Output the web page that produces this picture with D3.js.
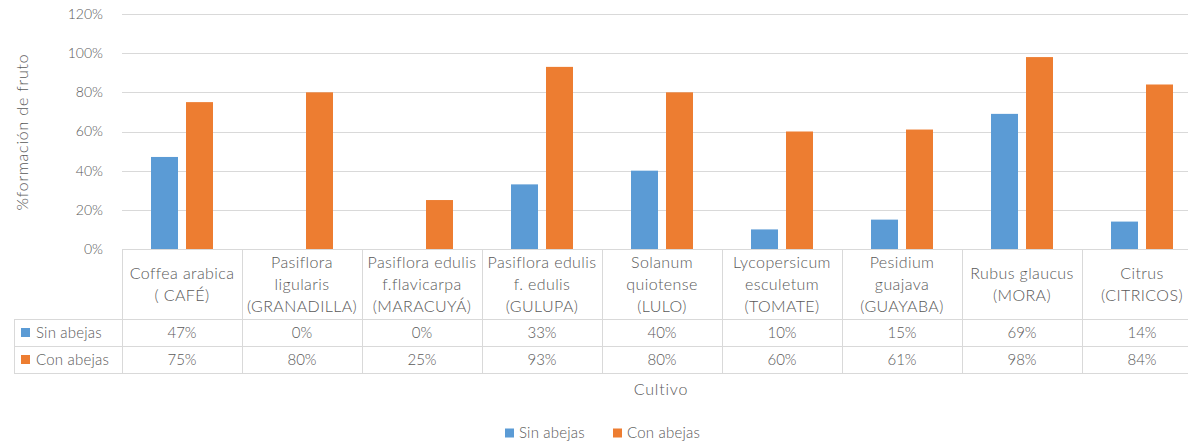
<!DOCTYPE html>
<html><head><meta charset="utf-8">
<script src="https://cdn.jsdelivr.net/npm/d3@7"></script>
<style>body{margin:0;background:#fff}svg{display:block}text{font-family:Lato,"Liberation Sans",sans-serif;fill:#595959;font-weight:300}</style>
</head><body>
<svg id="c" width="1188" height="443"></svg>
<script>
const categories = [
  ["Coffea arabica","( CAFÉ)"],
  ["Pasiflora","ligularis","(GRANADILLA)"],
  ["Pasiflora edulis","f.flavicarpa","(MARACUYÁ)"],
  ["Pasiflora edulis","f. edulis","(GULUPA)"],
  ["Solanum","quiotense","(LULO)"],
  ["Lycopersicum","esculetum","(TOMATE)"],
  ["Pesidium","guajava","(GUAYABA)"],
  ["Rubus glaucus","(MORA)"],
  ["Citrus","(CITRICOS)"]
];
const seriesNames = ["Sin abejas","Con abejas"];
const sinAbejas = [0.47,0,0,0.33,0.40,0.10,0.15,0.69,0.14];
const conAbejas = [0.75,0.80,0.25,0.93,0.80,0.60,0.61,0.98,0.84];
const yTicks = [0,0.2,0.4,0.6,0.8,1.0,1.2];
const colors = ["#5B9BD5","#ED7D31"];
const seriesValues = [sinAbejas, conAbejas];

const svg = d3.select("#c");
const grid = "#d9d9d9";
const x = d3.scaleBand().domain(d3.range(categories.length)).range([122,1202]).padding(0);
const xs = d3.scaleBand().domain(seriesNames).range([0,x.bandwidth()]).paddingInner(8/35).paddingOuter(29/35);
const y = d3.scaleLinear().domain([0,1.2]).range([249,14]);

// gridlines
svg.append("g").selectAll("line").data(yTicks.slice(1)).join("line")
  .attr("x1",122).attr("x2",1188).attr("y1",d=>Math.round(y(d))+0.5).attr("y2",d=>Math.round(y(d))+0.5)
  .attr("stroke",grid).attr("stroke-width",1);

// y-axis labels
const yAxis = d3.axisLeft(y).tickValues(yTicks).tickFormat(d3.format(".0%")).tickSize(0).tickPadding(0);
const ya = svg.append("g").attr("transform","translate(103,0)").call(yAxis);
ya.select(".domain").remove();
ya.selectAll("text").style("font-size","14px").attr("fill","#595959").style("font-family","Lato,'Liberation Sans',sans-serif");

// bars
seriesNames.forEach((s,si)=>{
  svg.append("g").selectAll("rect").data(seriesValues[si]).join("rect")
    .attr("x",(d,i)=>x(i)+xs(s)).attr("width",xs.bandwidth())
    .attr("y",d=>y(d)).attr("height",d=>y(0)-y(d)).attr("fill",colors[si]);
});

// table
const tTop = 249, hBot = 319, r1 = 346, r2 = 373, tLeft = 14;
const tg = svg.append("g").attr("stroke",grid).attr("stroke-width",1);
tg.append("line").attr("x1",122).attr("x2",1188).attr("y1",tTop+0.5).attr("y2",tTop+0.5);
[hBot,r1,r2].forEach(yy=>tg.append("line").attr("x1",tLeft).attr("x2",1188).attr("y1",yy+0.5).attr("y2",yy+0.5));
tg.append("line").attr("x1",tLeft+0.5).attr("x2",tLeft+0.5).attr("y1",hBot).attr("y2",r2);
d3.range(categories.length+1).forEach(i=>{
  const xx = i<categories.length ? x(i) : 1202;
  tg.append("line").attr("x1",Math.round(xx)+0.5).attr("x2",Math.round(xx)+0.5).attr("y1",tTop).attr("y2",r2);
});

// category labels
const lh = 22, hMid = (tTop+hBot)/2;
categories.forEach((lines,i)=>{
  const cx = x(i)+x.bandwidth()/2;
  const t = svg.append("text").attr("text-anchor","middle").style("font-size","16px").style("letter-spacing","0.4px");
  lines.forEach((l,k)=>{
    t.append("tspan").attr("x",cx).attr("y",hMid + (k-(lines.length-1)/2)*lh).attr("dy","0.35em").text(l);
  });
});

// table values
const fmt = d3.format(".0%");
[[sinAbejas,(hBot+r1)/2],[conAbejas,(r1+r2)/2]].forEach(([vals,ym],si)=>{
  svg.append("g").selectAll("text").data(vals).join("text")
    .attr("x",(d,i)=>x(i)+x.bandwidth()/2).attr("y",ym).attr("dy","0.35em")
    .attr("text-anchor","middle").style("font-size","15px").text(d=>fmt(d));
  svg.append("rect").attr("x",21).attr("y",ym-4.5).attr("width",9).attr("height",9).attr("fill",colors[si]);
  svg.append("text").attr("x",36).attr("y",ym).attr("dy","0.35em").style("font-size","15px").style("letter-spacing","0.2px").text(seriesNames[si]);
});

// axis titles
svg.append("text").attr("x",661).attr("y",389).attr("dy","0.35em").attr("text-anchor","middle").style("font-size","16px").style("letter-spacing","0.8px").text("Cultivo");
svg.append("text").attr("transform","translate(22,132) rotate(-90)").attr("dy","0.35em").attr("text-anchor","middle").style("font-size","16px").style("letter-spacing","0.8px").text("%formación de fruto");

// legend
const lg = svg.append("g");
const legX = [505,613];
seriesNames.forEach((s,i)=>{
  lg.append("rect").attr("x",legX[i]).attr("y",428.5).attr("width",9).attr("height",9).attr("fill",colors[i]);
  lg.append("text").attr("x",legX[i]+14).attr("y",433).attr("dy","0.35em").style("font-size","15px").style("letter-spacing","0.2px").text(s);
});
</script>
</body></html>
